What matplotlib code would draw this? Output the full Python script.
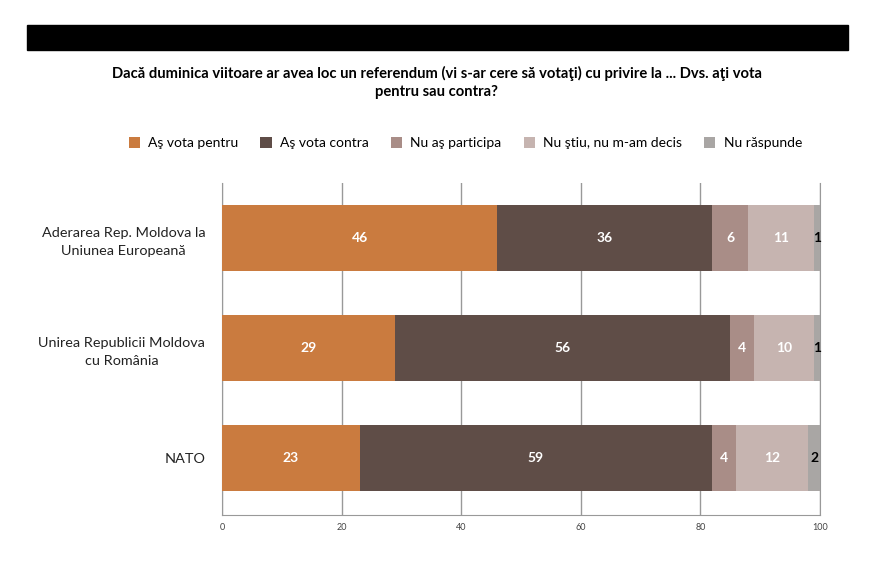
import matplotlib.pyplot as plt
from matplotlib.patches import Rectangle

plt.rcParams['font.family'] = ['Lato', 'DejaVu Sans']

# data
categories = ['Aderarea Rep. Moldova la\nUniunea Europeană',
              'Unirea Republicii Moldova\ncu România',
              'NATO']
series = ['Aş vota pentru', 'Aş vota contra', 'Nu aş participa',
          'Nu ştiu, nu m-am decis', 'Nu răspunde']
pentru = [46, 29, 23]
contra = [36, 56, 59]
nu_particip = [6, 4, 4]
nu_stiu = [11, 10, 12]
nu_raspunde = [1, 1, 2]
ticks = [0, 20, 40, 60, 80, 100]

colors = ['#CA7B3F', '#5F4D47', '#A98D87', '#C6B4B0', '#A9A6A4']
text_colors = ['white', 'white', 'white', 'white', 'black']

fig = plt.figure(figsize=(8.73, 5.69), dpi=100)
ax = fig.add_axes([222/873, 1-515/569, 598/873, 332/569])

# black band at top
fig.patches.append(Rectangle((27/873, 1-50/569), 821/873, 25/569,
                             transform=fig.transFigure, color='black'))

fig.text(0.5, 1-73/569, 'Dacă duminica viitoare ar avea loc un referendum (vi s-ar cere să votaţi) cu privire la ... Dvs. aţi vota',
         ha='center', va='center', fontsize=10.6, fontweight='bold')
fig.text(0.5, 1-92/569, 'pentru sau contra?', ha='center', va='center',
         fontsize=10.6, fontweight='bold')

data = [pentru, contra, nu_particip, nu_stiu, nu_raspunde]
ypos = list(range(len(categories)))
left = [0] * len(categories)
for s, vals in enumerate(data):
    ax.barh(ypos, vals, left=left, height=0.6, color=colors[s],
            label=series[s], zorder=3)
    for i, v in enumerate(vals):
        ax.text(left[i] + v / 2, ypos[i], str(v), ha='center', va='center',
                color=text_colors[s], fontsize=10, fontweight='bold', zorder=4)
    left = [l + v for l, v in zip(left, vals)]

ax.set_xlim(0, 100)
ax.set_ylim(2.52, -0.5)
ax.set_yticks(ypos)
ax.set_yticklabels(categories, fontsize=10.4, color='#222222',
                   multialignment='center', linespacing=1.65)
ax.set_xticks(ticks)
ax.set_xticklabels([str(t) for t in ticks], fontsize=6.5, color='#444444')
ax.tick_params(axis='y', length=0, pad=12)
ax.tick_params(axis='x', length=0, pad=6)
ax.xaxis.grid(True, color='#999999', linewidth=1, zorder=0)
ax.spines['top'].set_visible(False)
for side in ['left', 'right', 'bottom']:
    ax.spines[side].set_color('#999999')

handles, labels = ax.get_legend_handles_labels()
fig.legend(handles, labels, loc='center', bbox_to_anchor=(0.533, 1-143/569),
           ncol=5, frameon=False, fontsize=10, handlelength=0.8,
           handleheight=0.8, columnspacing=1.6, handletextpad=0.6)

fig.savefig('out.png', dpi=100)
